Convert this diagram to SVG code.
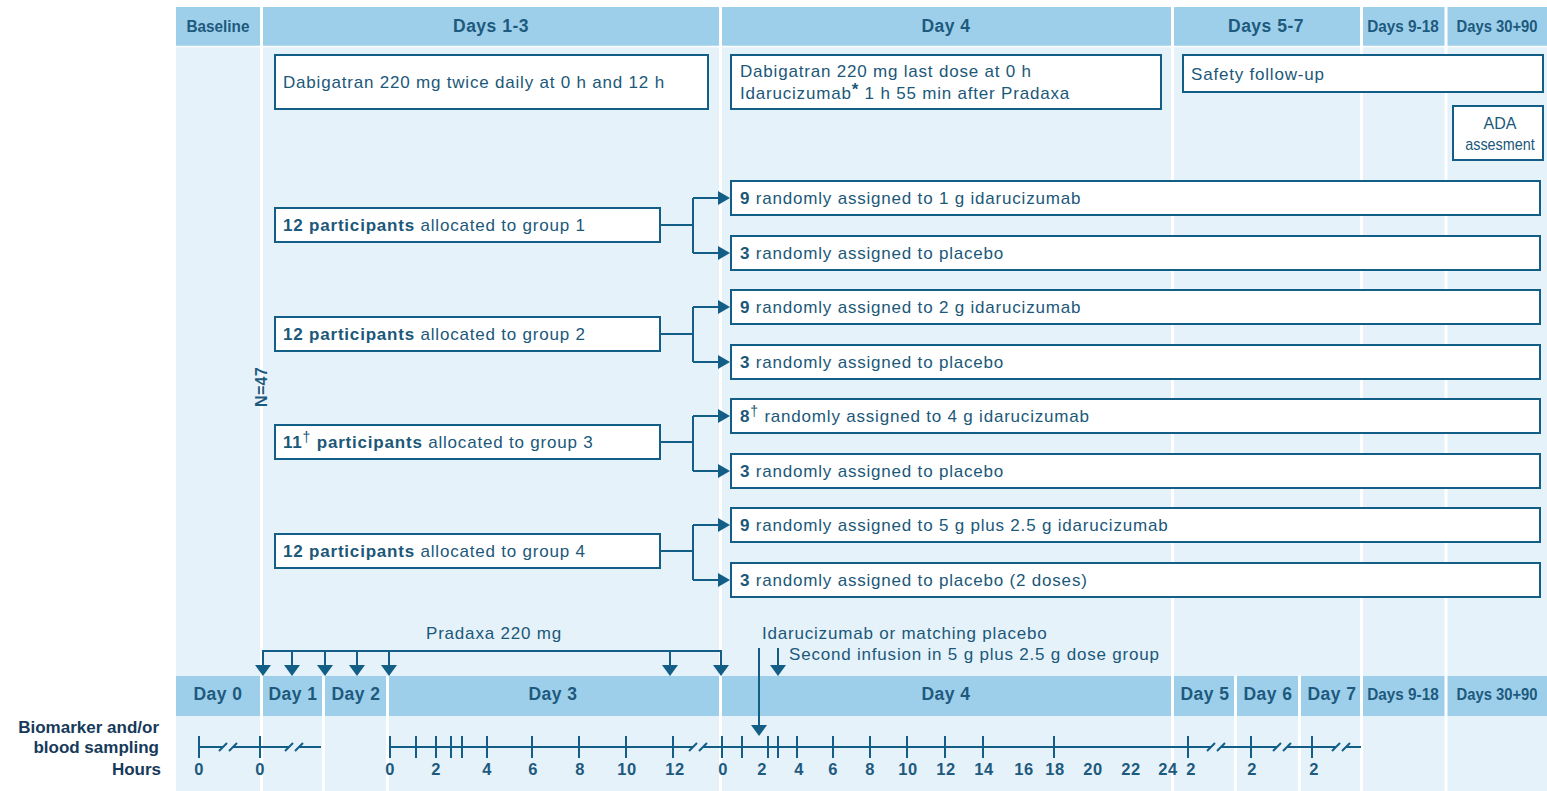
<svg xmlns="http://www.w3.org/2000/svg" width="1547" height="791" viewBox="0 0 1547 791">
<style>
.hdr{fill:#9dcfea}
.bg{fill:#e5f2fa}
.sep{stroke:#fff;stroke-width:3}
.ht{font-family:"Liberation Sans",Arial,sans-serif;font-weight:bold;font-size:17.5px;fill:#1d5a7e;text-anchor:middle;letter-spacing:0.5px}
.cd{letter-spacing:0;font-size:17px}
.box{fill:#fff;stroke:#125e87;stroke-width:2}
.t{font-family:"Liberation Sans",Arial,sans-serif;font-size:17px;fill:#1b5879;letter-spacing:0.8px}
.b{font-weight:bold}
.sup{font-size:14px}
.ln{stroke:#125e87;stroke-width:2;fill:none}
.ah{fill:#125e87}
.num{font-family:"Liberation Sans",Arial,sans-serif;font-weight:bold;font-size:16.5px;fill:#1d5a7e;text-anchor:middle;letter-spacing:0.5px}
.lbl{font-family:"Liberation Sans",Arial,sans-serif;font-weight:bold;font-size:17px;fill:#173a5a;text-anchor:end}
</style>
<defs>
<path id="ar" d="M-12,-7 L0,0 L-12,7 Z"/>
<path id="ad" d="M-8,-11 L8,-11 L0,0 Z"/>
</defs>
<rect width="1547" height="791" fill="#fff"/>
<g id="columns">
<rect class="bg" x="176" y="47" width="1371" height="744"/>
<rect class="hdr" x="176" y="7" width="1371" height="39"/>
<rect class="hdr" x="176" y="676" width="1371" height="40"/>
<g class="sep">
<line x1="261.5" y1="7" x2="261.5" y2="791"/>
<line x1="720.5" y1="7" x2="720.5" y2="791"/>
<line x1="1172.5" y1="7" x2="1172.5" y2="791"/>
<line x1="1361.5" y1="7" x2="1361.5" y2="791"/>
<line x1="1446" y1="7" x2="1446" y2="791"/>
<line x1="323.5" y1="676" x2="323.5" y2="791"/>
<line x1="387.5" y1="676" x2="387.5" y2="791"/>
<line x1="1235.5" y1="676" x2="1235.5" y2="791"/>
<line x1="1299.5" y1="676" x2="1299.5" y2="791"/>
<line x1="176" y1="46.5" x2="1547" y2="46.5" stroke-width="1.5"/>
</g>
<text class="ht cd" transform="translate(218,32) scale(0.9,1)">Baseline</text>
<text class="ht" x="491" y="32">Days 1-3</text>
<text class="ht" x="946" y="32">Day 4</text>
<text class="ht" x="1266" y="32">Days 5-7</text>
<text class="ht cd" transform="translate(1403,32) scale(0.9,1)">Days 9-18</text>
<text class="ht cd" transform="translate(1497,32) scale(0.87,1)">Days 30+90</text>
<text class="ht" x="218" y="700">Day 0</text>
<text class="ht" x="293" y="700">Day 1</text>
<text class="ht" x="356" y="700">Day 2</text>
<text class="ht" x="553" y="700">Day 3</text>
<text class="ht" x="946" y="700">Day 4</text>
<text class="ht" x="1205" y="700">Day 5</text>
<text class="ht" x="1268" y="700">Day 6</text>
<text class="ht" x="1332" y="700">Day 7</text>
<text class="ht cd" transform="translate(1403,700) scale(0.9,1)">Days 9-18</text>
<text class="ht cd" transform="translate(1497,700) scale(0.87,1)">Days 30+90</text>
<text class="ht" transform="translate(267,387) rotate(-90)" style="font-size:16px;letter-spacing:0.3px">N=47</text>
</g>
<g id="dosing13">
<rect class="box" x="275" y="55" width="433" height="54"/>
<text class="t" x="283" y="88">Dabigatran 220 mg twice daily at 0 h and 12 h</text>
</g>
<g id="dosing4">
<rect class="box" x="731" y="55" width="430" height="54"/>
<text class="t" x="740" y="77">Dabigatran 220 mg last dose at 0 h</text>
<text class="t" x="740" y="99">Idarucizumab<tspan class="b" dy="-4" font-size="17">*</tspan><tspan dy="4"> 1 h 55 min after Pradaxa</tspan></text>
</g>
<g id="safety">
<rect class="box" x="1183" y="55" width="360" height="37"/>
<text class="t" x="1191" y="80">Safety follow-up</text>
</g>
<g id="ada">
<rect class="box" x="1453" y="106" width="90" height="54"/>
<text class="t" x="1500" y="129" text-anchor="middle" style="letter-spacing:0;font-size:16px">ADA</text>
<text class="t" transform="translate(1500,150) scale(0.9,1)" text-anchor="middle" style="letter-spacing:0;font-size:16px">assesment</text>
</g>
<g id="group1">
<rect class="box" x="275" y="208" width="385" height="34"/>
<text class="t" x="283" y="231"><tspan class="b">12 participants</tspan> allocated to group 1</text>
</g>
<g id="group2">
<rect class="box" x="275" y="317" width="385" height="34"/>
<text class="t" x="283" y="340"><tspan class="b">12 participants</tspan> allocated to group 2</text>
</g>
<g id="group3">
<rect class="box" x="275" y="425" width="385" height="34"/>
<text class="t" x="283" y="448"><tspan class="b">11</tspan><tspan class="sup" dy="-6">†</tspan><tspan class="b" dy="6"> participants</tspan> allocated to group 3</text>
</g>
<g id="group4">
<rect class="box" x="275" y="534" width="385" height="34"/>
<text class="t" x="283" y="557"><tspan class="b">12 participants</tspan> allocated to group 4</text>
</g>
<g id="arm1a">
<rect class="box" x="731" y="181" width="809" height="34"/>
<text class="t" x="740" y="204"><tspan class="b">9</tspan> randomly assigned to 1 g idarucizumab</text>
</g>
<g id="arm1b">
<rect class="box" x="731" y="236" width="809" height="34"/>
<text class="t" x="740" y="259"><tspan class="b">3</tspan> randomly assigned to placebo</text>
</g>
<g id="arm2a">
<rect class="box" x="731" y="290" width="809" height="34"/>
<text class="t" x="740" y="313"><tspan class="b">9</tspan> randomly assigned to 2 g idarucizumab</text>
</g>
<g id="arm2b">
<rect class="box" x="731" y="345" width="809" height="34"/>
<text class="t" x="740" y="368"><tspan class="b">3</tspan> randomly assigned to placebo</text>
</g>
<g id="arm3a">
<rect class="box" x="731" y="399" width="809" height="34"/>
<text class="t" x="740" y="422"><tspan class="b">8</tspan><tspan class="sup" dy="-6">†</tspan><tspan dy="6"> randomly assigned to 4 g idarucizumab</tspan></text>
</g>
<g id="arm3b">
<rect class="box" x="731" y="454" width="809" height="34"/>
<text class="t" x="740" y="477"><tspan class="b">3</tspan> randomly assigned to placebo</text>
</g>
<g id="arm4a">
<rect class="box" x="731" y="508" width="809" height="34"/>
<text class="t" x="740" y="531"><tspan class="b">9</tspan> randomly assigned to 5 g plus 2.5 g idarucizumab</text>
</g>
<g id="arm4b">
<rect class="box" x="731" y="563" width="809" height="34"/>
<text class="t" x="740" y="586"><tspan class="b">3</tspan> randomly assigned to placebo (2 doses)</text>
</g>
<g id="connectors">
<path class="ln" d="M660,225 H693 M693,198 V253 M693,198 H722 M693,253 H722"/>
<path class="ln" d="M660,334 H693 M693,307 V362 M693,307 H722 M693,362 H722"/>
<path class="ln" d="M660,442 H693 M693,416 V471 M693,416 H722 M693,471 H722"/>
<path class="ln" d="M660,551 H693 M693,525 V580 M693,525 H722 M693,580 H722"/>
<g class="ah">
<use href="#ar" x="730" y="198"/><use href="#ar" x="730" y="253"/>
<use href="#ar" x="730" y="307"/><use href="#ar" x="730" y="362"/>
<use href="#ar" x="730" y="416"/><use href="#ar" x="730" y="471"/>
<use href="#ar" x="730" y="525"/><use href="#ar" x="730" y="580"/>
</g>
<path class="ln" d="M263,666 V651 H721 V666 M292,651 V666 M325,651 V666 M357,651 V666 M389,651 V666 M670,651 V666"/>
<g class="ah">
<use href="#ad" x="263" y="676"/><use href="#ad" x="292" y="676"/><use href="#ad" x="325" y="676"/>
<use href="#ad" x="357" y="676"/><use href="#ad" x="389" y="676"/><use href="#ad" x="670" y="676"/>
<use href="#ad" x="721" y="676"/>
<use href="#ad" x="759" y="736"/><use href="#ad" x="778" y="676"/>
</g>
<path class="ln" d="M759,648 V726 M778,648 V666"/>
</g>
<g id="annotations">
<text class="t" x="494" y="639" text-anchor="middle">Pradaxa 220 mg</text>
<text class="t" x="762" y="639">Idarucizumab or matching placebo</text>
<text class="t" x="789" y="660">Second infusion in 5 g plus 2.5 g dose group</text>
</g>
<g id="timeline">
<text class="lbl" x="159" y="733">Biomarker and/or</text>
<text class="lbl" x="159" y="753">blood sampling</text>
<text class="lbl" x="161" y="775">Hours</text>
<path class="ln" d="M199,747 H223 M233,747 H289 M299,747 H321
M390,747 H693 M703,747 H1211 M1221,747 H1277 M1287,747 H1336 M1346,747 H1361
M219,751 L227,743 M229,751 L237,743 M285,751 L293,743 M295,751 L303,743
M689,751 L697,743 M699,751 L707,743 M1207,751 L1215,743 M1217,751 L1225,743
M1273,751 L1281,743 M1283,751 L1291,743 M1332,751 L1340,743 M1342,751 L1350,743
M199,736 V758 M260,736 V758
M390,736 V758 M416,736 V758 M436,736 V758 M451,736 V758 M462,736 V758 M487,736 V758
M532,736 V758 M579,736 V758 M626,736 V758 M673,736 V758
M722,736 V758 M742,736 V758 M768,736 V758 M778,736 V758 M797,736 V758 M833,736 V758
M870,736 V758 M907,736 V758 M945,736 V758 M983,736 V758 M1054,736 V758
M1188,736 V758 M1251,736 V758 M1312,736 V758"/>
<g class="num">
<text x="199" y="775">0</text><text x="260" y="775">0</text>
<text x="390" y="775">0</text><text x="436" y="775">2</text><text x="487" y="775">4</text>
<text x="533" y="775">6</text><text x="580" y="775">8</text><text x="627" y="775">10</text>
<text x="675" y="775">12</text>
<text x="723" y="775">0</text><text x="762" y="775">2</text><text x="799" y="775">4</text>
<text x="833" y="775">6</text><text x="870" y="775">8</text><text x="908" y="775">10</text>
<text x="946" y="775">12</text><text x="984" y="775">14</text><text x="1024" y="775">16</text>
<text x="1055" y="775">18</text><text x="1093" y="775">20</text><text x="1131" y="775">22</text>
<text x="1168" y="775">24</text>
<text x="1191" y="775">2</text><text x="1252" y="775">2</text><text x="1314" y="775">2</text>
</g>
</g>
</svg>
